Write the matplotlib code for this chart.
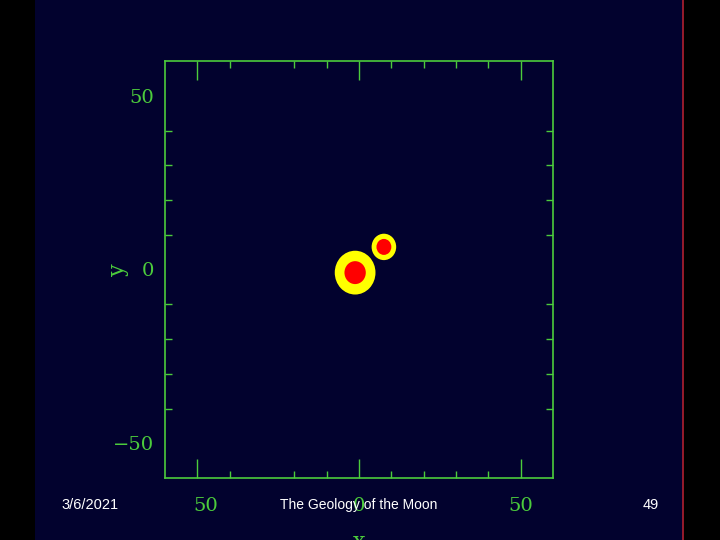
import matplotlib
matplotlib.use("Agg")
import matplotlib.pyplot as plt
from matplotlib.patches import Circle, Rectangle
from matplotlib.transforms import ScaledTranslation

# two bodies: centre, outer (yellow) and inner (red) radius
body_x = [-1.2, 7.7]
body_y = [-0.9, 6.5]
outer_r = [6.3, 3.8]
inner_r = [3.3, 2.3]

major_ticks = [-50, 0, 50]
x_labels = ["50", "0", "50"]
y_labels = ["\u221250", "0", "50"]
x_minor = [-40, -20, -10, 10, 20, 30, 40]
y_minor = [-40, -30, -20, -10, 10, 20, 30, 40]

navy = "#02022e"
green = "#4ccc3c"

fig = plt.figure(figsize=(7.2, 5.4), dpi=100, facecolor="black")
# slide background + red edge line
fig.patches.append(Rectangle((35 / 720, 0), (683 - 35) / 720, 1, transform=fig.transFigure,
                             facecolor=navy, edgecolor="none", zorder=-10))
fig.lines.append(plt.Line2D([683 / 720, 683 / 720], [0, 1], transform=fig.transFigure,
                            color="#b02030", lw=1.2))

ax = fig.add_axes([165 / 720, 62 / 540, 388 / 720, 417 / 540])
ax.set_facecolor(navy)
ax.set_xlim(-60, 60)
ax.set_ylim(-60, 60)

for x, y, ro, ri in zip(body_x, body_y, outer_r, inner_r):
    ax.add_patch(Circle((x, y), ro, facecolor="#ffff00", edgecolor="none"))
    ax.add_patch(Circle((x, y), ri, facecolor="#ff0000", edgecolor="none"))

for s in ax.spines.values():
    s.set_color(green)
    s.set_linewidth(1.2)

ax.set_xticks(major_ticks)
ax.set_xticklabels(x_labels)
ax.set_yticks(major_ticks)
ax.set_yticklabels(y_labels)
ax.set_xticks(x_minor, minor=True)
ax.set_yticks(y_minor, minor=True)
ax.tick_params(axis="x", which="major", direction="in", length=14, width=1, color=green,
               top=True, bottom=True, pad=14)
ax.tick_params(axis="y", which="major", direction="in", length=0, color=green, pad=8)
ax.tick_params(which="minor", direction="in", length=5, width=1, color=green,
               top=True, right=True, left=True, bottom=True)
for lab in ax.get_xticklabels() + ax.get_yticklabels():
    lab.set_color(green)
    lab.set_fontfamily("DejaVu Serif")
    lab.set_fontsize(14)
# left x label sits a little right of its tick in the original
first = ax.get_xticklabels()[0]
first.set_transform(first.get_transform() + ScaledTranslation(8 / 100, 0, fig.dpi_scale_trans))

ax.set_ylabel("y", color=green, fontfamily="DejaVu Serif", fontsize=16)
ax.yaxis.set_label_coords(-36 / 388, 0.5)
ax.set_xlabel("x", color=green, fontfamily="DejaVu Serif", fontsize=16, labelpad=11)

fig.text(90 / 720, 1 - 505 / 540, "3/6/2021", color="white", fontsize=10.5,
         fontfamily="Liberation Sans", ha="center", va="center")
fig.text(359 / 720, 1 - 505 / 540, "The Geology of the Moon", color="white", fontsize=10,
         fontfamily="Liberation Sans", ha="center", va="center")
fig.text(651 / 720, 1 - 505 / 540, "49", color="white", fontsize=10.5,
         fontfamily="Liberation Sans", ha="center", va="center")

fig.savefig("out.png", dpi=100, facecolor=fig.get_facecolor())
